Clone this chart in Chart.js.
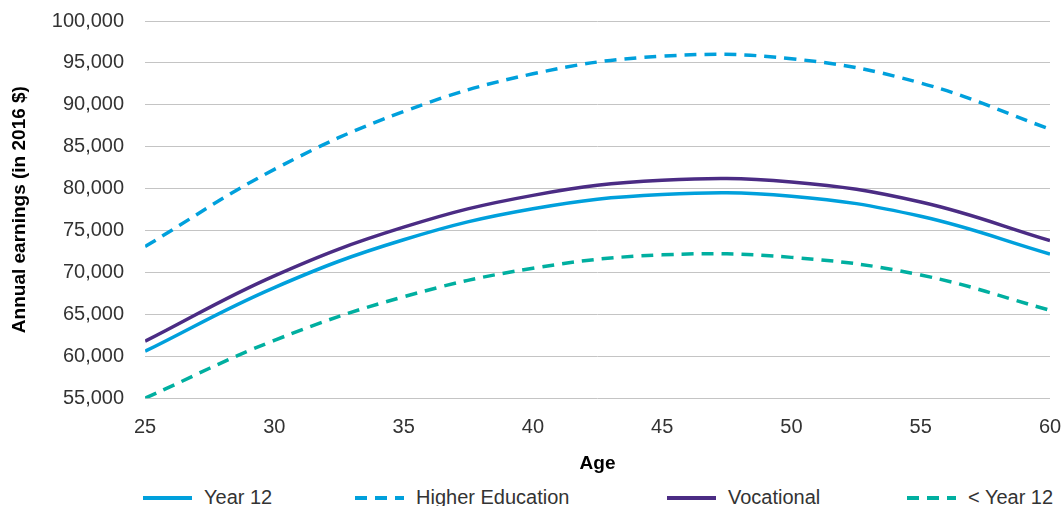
<!DOCTYPE html>
<html>
<head>
<meta charset="utf-8">
<script src="https://cdn.jsdelivr.net/npm/chart.js@4/dist/chart.umd.min.js"></script>
<style>
  html, body { margin: 0; padding: 0; background: #fff; }
  #wrap { position: relative; width: 1064px; height: 485px; }
  #legend {
    position: relative; width: 1064px; height: 21px;
    font-family: "Liberation Sans", Arial, sans-serif; font-size: 20px; color: #333;
  }
  #legend .item { position: absolute; top: 2px; height: 21px; display: flex; align-items: center; white-space: nowrap; }
  #legend svg { margin-right: 12px; }
</style>
</head>
<body>
<div id="wrap"><canvas id="chart"></canvas></div>
<div id="legend"></div>
<script>
// Ages (x axis)
const ages = [25, 30, 35, 40, 45, 50, 55, 60];

// Annual earnings (in 2016 $)
const year12 = [60600, 68200, 73900, 77600, 79300, 79100, 76700, 72200];
const higherEd = [73100, 82300, 89200, 93700, 95800, 95500, 92600, 87100];
const vocational = [61800, 69600, 75400, 79200, 81000, 80800, 78400, 73800];
const belowYear12 = [55000, 61900, 67100, 70500, 72100, 71800, 69700, 65500];

const seriesNames = ['Year 12', 'Higher Education', 'Vocational', '< Year 12'];

// Colores
const blue = '#00A0DC';
const purple = '#4B2C84';
const teal = '#00AFA0';
const DASH = [12, 8];

function toPoints(values) {
    return values.map((v, i) => ({ x: ages[i], y: v }));
}

function lineSet(label, values, color, dash) {
    return {
        label: label,
        data: toPoints(values),
        borderColor: color,
        backgroundColor: color,
        borderWidth: 3.5,
        borderDash: dash,
        pointRadius: 0,
        tension: 0.4,
        fill: false
    };
}

const ctx = document.getElementById('chart').getContext('2d');
const chart = new Chart(ctx, {
    type: 'line',
    data: {
        datasets: [
            lineSet(seriesNames[0], year12, blue, []),
            lineSet(seriesNames[1], higherEd, blue, DASH),
            lineSet(seriesNames[2], vocational, purple, []),
            lineSet(seriesNames[3], belowYear12, teal, DASH)
        ]
    },
    options: {
        responsive: true,
        maintainAspectRatio: false,
        animation: false,
        layout: { padding: { top: 21, right: 14, left: 8, bottom: 2 } },
        plugins: {
            legend: { display: false },
            tooltip: { enabled: false }
        },
        scales: {
            x: {
                type: 'linear',
                min: 25,
                max: 60,
                afterFit: (scale) => { scale.paddingLeft = 0; scale.paddingRight = 0; },
                ticks: { stepSize: 5, padding: 9, color: '#333', font: { family: 'Liberation Sans', size: 20 } },
                grid: { display: false },
                border: { display: false },
                title: {
                    display: true,
                    text: 'Age',
                    color: '#000',
                    font: { family: 'Liberation Sans', size: 19, weight: 'bold' },
                    padding: { top: 4, bottom: 8 }
                }
            },
            y: {
                min: 55000,
                max: 100000,
                afterFit: (scale) => { scale.paddingTop = 0; scale.paddingBottom = 0; },
                ticks: {
                    stepSize: 5000,
                    padding: 21,
                    color: '#333',
                    font: { family: 'Liberation Sans', size: 20 },
                    callback: (v) => v.toLocaleString('en-US')
                },
                grid: { color: '#c4c4c4', lineWidth: 1, drawTicks: false },
                border: { display: false },
                title: {
                    display: true,
                    text: 'Annual earnings (in 2016 $)',
                    color: '#000',
                    font: { family: 'Liberation Sans', size: 19, weight: 'bold' },
                    padding: { top: 0, bottom: 0 }
                }
            }
        }
    }
});

// Leyenda en HTML, espaciada como en la figura
const legendX = [143, 355, 667, 907];
const legend = document.getElementById('legend');
chart.data.datasets.forEach((ds, i) => {
    const item = document.createElement('div');
    item.className = 'item';
    item.style.left = legendX[i] + 'px';
    const dash = ds.borderDash.length ? ` stroke-dasharray="${ds.borderDash.join(' ')}"` : '';
    item.innerHTML = `<svg width="49" height="8"><line x1="0" y1="4" x2="49" y2="4" stroke="${ds.borderColor}" stroke-width="4"${dash}/></svg>`;
    const span = document.createElement('span');
    span.textContent = ds.label;
    item.appendChild(span);
    legend.appendChild(item);
});
</script>
</body>
</html>
